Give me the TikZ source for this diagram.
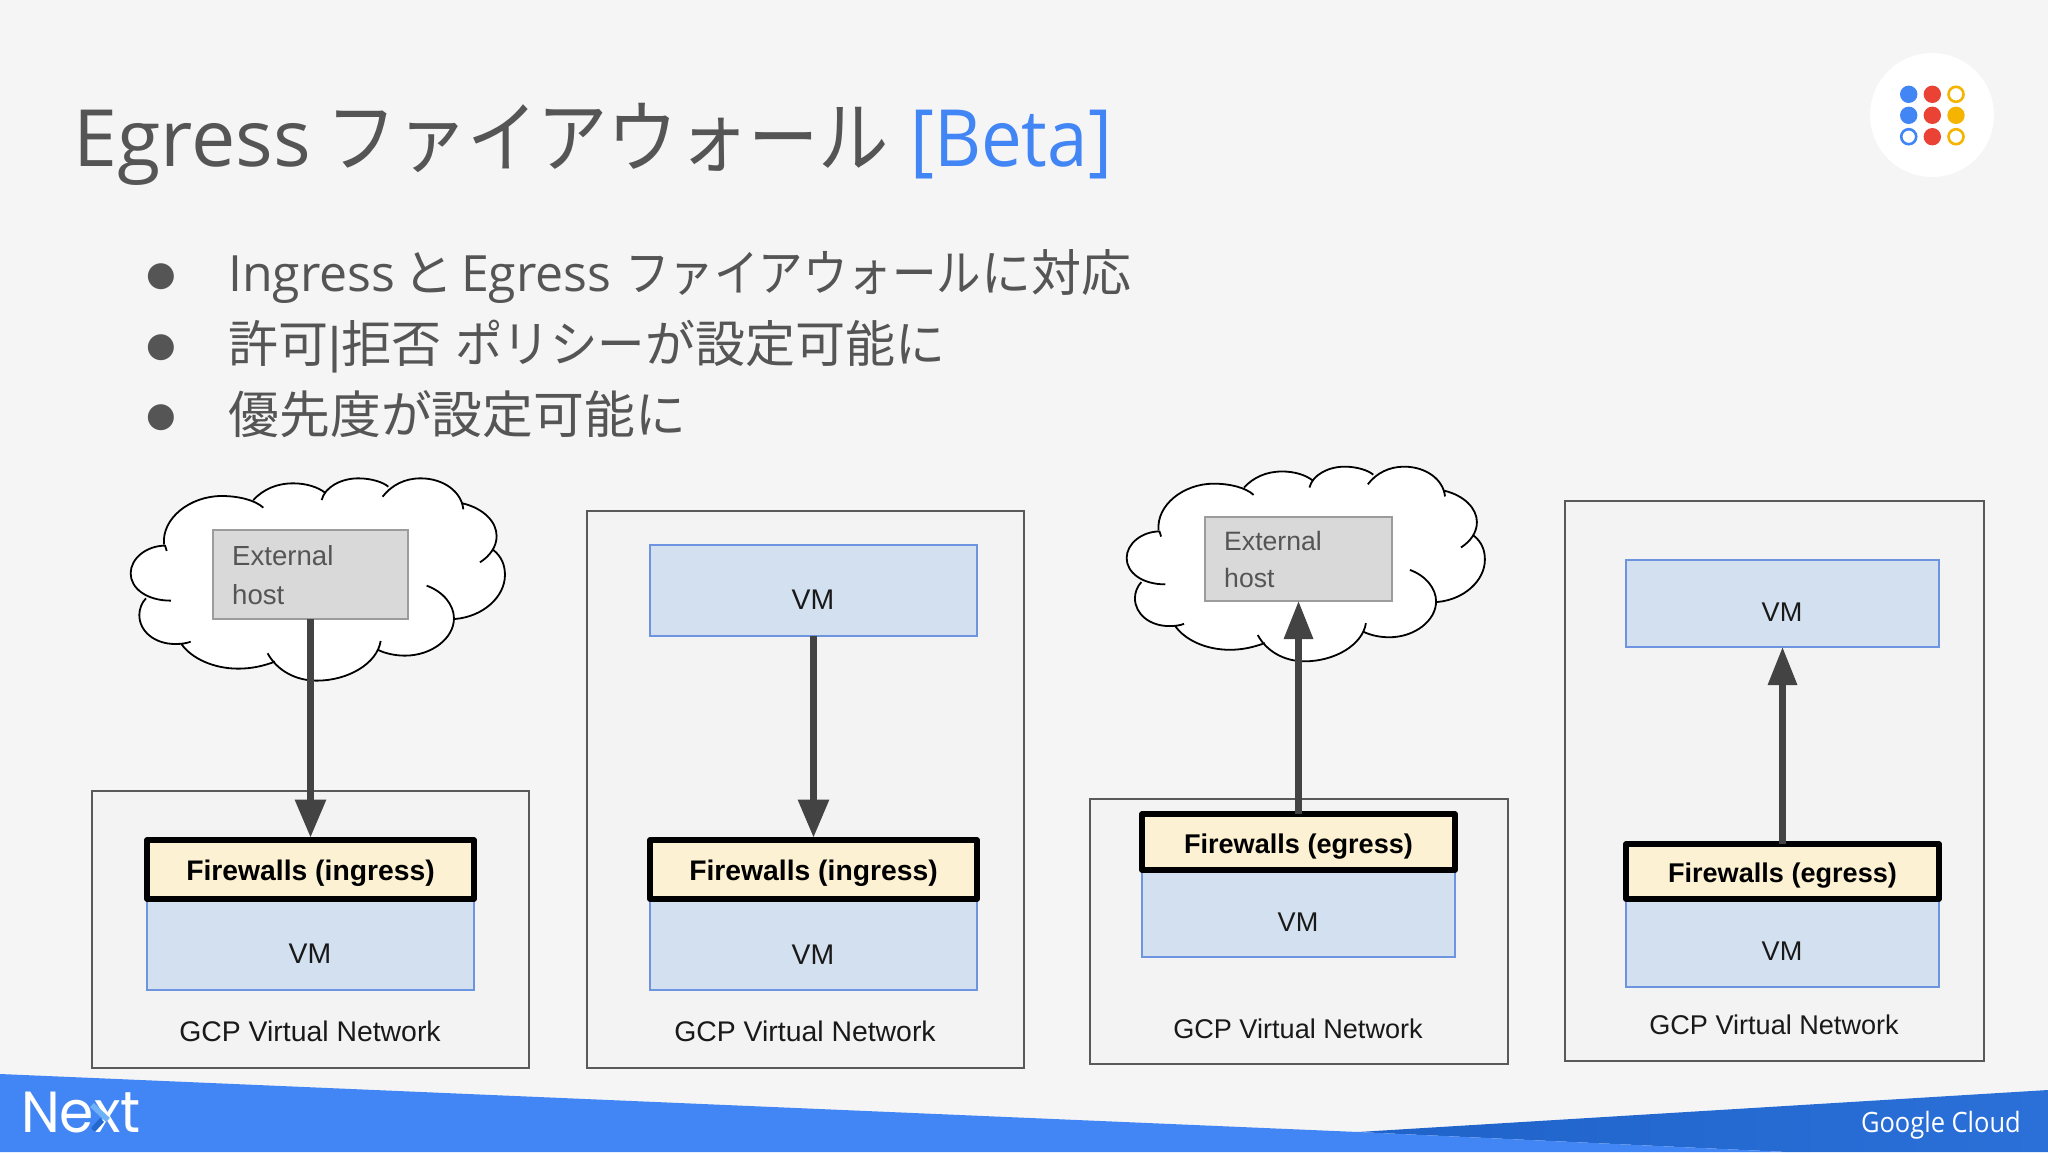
\documentclass[tikz,border=0pt]{standalone}
\usepackage{fontspec}
\usetikzlibrary{arrows.meta}
\setmainfont{Liberation Sans}
\newfontfamily\cjk{Noto Sans CJK JP}
\newfontfamily\kat[FakeStretch=.89]{Noto Sans CJK JP}
\newfontfamily\katb[FakeStretch=.95]{Noto Sans CJK JP}
\newfontfamily\lat{Open Sans}
\newfontfamily\latn[FakeStretch=.92]{Open Sans}
\newfontfamily\djv{DejaVu Sans}
\newfontfamily\logofont{Poppins}
\definecolor{bgc}{HTML}{F5F5F6}
\definecolor{netfill}{HTML}{F3F3F4}
\definecolor{inkc}{HTML}{555555}
\definecolor{beta}{HTML}{4285F4}
\definecolor{arrowc}{HTML}{434343}
\definecolor{netc}{HTML}{595959}
\definecolor{vmfill}{HTML}{D2E0F0}
\definecolor{vmline}{HTML}{6D94DE}
\definecolor{fwfill}{HTML}{FCF1D2}
\definecolor{hostfill}{HTML}{D9D9D9}
\definecolor{hostline}{HTML}{9C9C9C}
\definecolor{hostink}{HTML}{555555}
\definecolor{gred}{HTML}{EA4335}
\definecolor{gyel}{HTML}{F4B400}
\definecolor{banner}{HTML}{4285F4}
\definecolor{bannerd}{HTML}{2368CF}
\definecolor{bannerl}{HTML}{1F63C9}
\definecolor{bannerr}{HTML}{2A70D8}
\definecolor{xlight}{HTML}{6FB1F5}
\newcommand\cloudlines[1]{
 (213,452) .. controls (140,452) and (92,415) .. (92,370) .. controls (92,325) and (140,287) .. (195,287) .. controls (197,292) and (199,297) .. (200,303) #1
 (192,283) .. controls (185,205) and (270,138) .. (365,138) .. controls (415,138) and (465,150) .. (490,173) #1
 (460,150) .. controls (490,118) and (530,100) .. (580,100) .. controls (620,100) and (655,112) .. (675,128) #1
 (665,150) .. controls (675,110) and (725,85) .. (775,85) .. controls (815,85) and (850,97) .. (865,110) #1
 (848,140) .. controls (875,105) and (915,85) .. (962,85) .. controls (1030,85) and (1085,125) .. (1090,178) #1
 (1088,160) .. controls (1150,175) and (1190,215) .. (1190,258) .. controls (1190,290) and (1170,318) .. (1140,337) #1
 (1180,300) .. controls (1205,320) and (1215,345) .. (1215,375) .. controls (1215,440) and (1150,500) .. (1065,507) #1
 (980,407) .. controls (1030,425) and (1062,465) .. (1062,505) .. controls (1062,565) and (995,617) .. (915,617) .. controls (885,617) and (855,610) .. (835,600) #1
 (842,573) .. controls (832,640) and (745,692) .. (650,692) .. controls (585,692) and (530,660) .. (503,610) #1
 (525,635) .. controls (490,648) and (455,656) .. (415,656) .. controls (340,656) and (275,625) .. (245,583) #1
 (272,575) .. controls (260,580) and (245,582) .. (225,582) .. controls (165,582) and (118,545) .. (118,495) .. controls (118,478) and (125,458) .. (138,445)
}
\tikzset{
 netbox/.style={draw=netc,line width=2pt,fill=netfill,inner sep=0pt,outer sep=0pt},
 vmbox/.style={draw=vmline,line width=2pt,fill=vmfill,inner sep=0pt,outer sep=0pt},
 fwbox/.style={draw=black,line width=5.5pt,fill=fwfill,line join=round,inner sep=0pt,outer sep=0pt,text=black,text height=22pt,text depth=0pt,font=\fontsize{28.3}{32}\selectfont\bfseries},
 fwboxs/.style={fwbox,font=\fontsize{27.1}{32}\selectfont\bfseries},
 hostbox/.style={draw=hostline,line width=2pt,fill=hostfill,inner sep=0pt,outer sep=0pt},
 hosttxt/.style={inner sep=0pt,anchor=base west,text=hostink,font=\fontsize{27.6}{32}\selectfont},
 lbl/.style={inner sep=0pt,text=black!90,font=\fontsize{28.4}{32}\selectfont},
 lbls/.style={lbl,font=\fontsize{27.1}{32}\selectfont},
 flow/.style={draw=arrowc,line width=6.3pt,-{Triangle[length=38pt,width=30pt,fill=arrowc]}},
 flowup/.style={draw=arrowc,line width=6.3pt,-{Triangle[length=38pt,width=28pt,fill=arrowc]}},
 titletxt/.style={inner sep=0pt,anchor=base west,text=inkc,font=\fontsize{79}{90}\selectfont},
 bodytxt/.style={inner sep=0pt,anchor=base west,text=inkc,font=\fontsize{50}{60}\selectfont},
 bul/.style={inner sep=0pt,anchor=base,text=inkc,font=\djv\fontsize{34}{40}\selectfont},
 dot/.style={circle,inner sep=0pt,outer sep=0pt,minimum size=17.4pt},
 ring/.style={circle,inner sep=0pt,outer sep=0pt,minimum size=15pt,draw=#1,line width=2.6pt,fill=white},
 cloudink/.style={draw=black,line width=1.8pt}
}
\begin{document}
\begin{tikzpicture}[x=1pt,y=-1pt]
\useasboundingbox (0,0) rectangle (2048,1152);
\fill[bgc] (0,0) rectangle (2048,1152);
% banner
\shade[left color=bannerl,right color=bannerr] (1358,1132) -- (2048,1090) -- (2048,1152) -- (1787,1152) -- cycle;
\fill[banner] (0,1074) -- (1358,1132) -- (1787,1152) -- (0,1152) -- cycle;
\node[inner sep=0pt,anchor=base west,text=white,xscale=.95,font=\logofont\fontsize{58}{60}\selectfont] (next) at (21,1132) {Next};
\draw[line width=5.5pt,color=xlight] (92,1105) -- (108,1120);
\draw[line width=5.5pt,color=bannerd] (93,1130) -- (102,1120);
\node[inner sep=0pt,anchor=base east,text=white,xscale=.91,font=\lat\fontsize{28}{30}\selectfont] (gc) at (2021,1132) {Google Cloud};
% title
\node[titletxt] (title) at (73,166) {{\lat Egress}\hspace{-6pt} {\kat ファイアウォール}\hspace{-1pt} {\latn\color{beta}[Beta]}};
\node[bodytxt] (l1) at (228,291) {{\lat Ingress}\hspace{-6pt} {\cjk と}\hspace{-6pt} {\lat Egress} {\kat ファイアウォール}{\cjk に対応}};
\node[bodytxt] (l2) at (228,362) {{\cjk 許可}|{\cjk 拒否} {\katb ポリシー}{\cjk が設定可能に}};
\node[bodytxt,font=\fontsize{50.8}{60}\selectfont] (l3) at (228.5,433) {{\cjk 優先度が設定可能に}};
\node[bul] (b1) at (161,285) {●};
\node[bul] (b2) at (161,356) {●};
\node[bul] (b3) at (161,426) {●};
% logo
\fill[white] (1932,115) circle (62);
\node[dot,fill=beta] (d1) at (1908.7,94.3) {};
\node[dot,fill=gred] (d2) at (1932.3,94.3) {};
\node[ring=gyel] (d3) at (1956,94.3) {};
\node[dot,fill=beta] (d4) at (1908.7,115.3) {};
\node[dot,fill=gred] (d5) at (1932.3,115.3) {};
\node[dot,fill=gyel] (d6) at (1956,115.3) {};
\node[ring=beta] (d7) at (1908.7,136.7) {};
\node[dot,fill=gred] (d8) at (1932.3,136.7) {};
\node[ring=gyel] (d9) at (1956,136.7) {};
% network frames
\node[netbox,minimum width=437pt,minimum height=277pt] (net1) at (310.5,929.5) {};
\node[netbox,minimum width=437pt,minimum height=557pt] (net2) at (805.5,789.5) {};
\node[netbox,minimum width=418pt,minimum height=265pt] (net3) at (1299,931.5) {};
\node[netbox,minimum width=419pt,minimum height=560pt] (net4) at (1774.5,781) {};
% clouds
\begin{scope}[shift={(100,450)},x=.3333pt,y=-.3333pt]
\fill[white] \cloudlines{--} -- cycle;
\draw[cloudink] \cloudlines{};
\end{scope}
\begin{scope}[shift={(1097.3,439.4)},x=.319pt,y=-.3207pt]
\fill[white] \cloudlines{--} -- cycle;
\draw[cloudink] \cloudlines{};
\end{scope}
% panel 1
\node[hostbox,minimum width=195pt,minimum height=89pt] (host1) at (310.5,574.5) {};
\node[hosttxt] (host1a) at (232,565) {External};
\node[hosttxt] (host1b) at (232,604) {host};
\node[vmbox,minimum width=327pt,minimum height=91pt] (vm1) at (310.5,944.5) {};
\node[fwbox,minimum width=327pt,minimum height=59pt] (fw1) at (310.5,869.5) {Firewalls (ingress)};
\node[lbl] (vm1t) at (310,953.5) {VM};
\node[lbl] (net1t) at (310,1031) {GCP Virtual Network};
\draw[flow,shorten >=2.5pt] (host1.south) -- (fw1.north);
% panel 2
\node[vmbox,minimum width=327pt,minimum height=91pt] (vm2a) at (813.5,590.5) {};
\node[lbl] (vm2at) at (813,599.5) {VM};
\node[vmbox,minimum width=327pt,minimum height=91pt] (vm2b) at (813.5,944.5) {};
\node[fwbox,minimum width=327pt,minimum height=59pt] (fw2) at (813.5,869.5) {Firewalls (ingress)};
\node[lbl] (vm2bt) at (813,954.5) {VM};
\node[lbl] (net2t) at (805,1031) {GCP Virtual Network};
\draw[flow,shorten >=2.5pt] (vm2a.south) -- (fw2.north);
% panel 3
\node[hostbox,minimum width=187pt,minimum height=84pt] (host2) at (1298.5,559) {};
\node[hosttxt,font=\fontsize{26.6}{32}\selectfont] (host2a) at (1224,550) {External};
\node[hosttxt,font=\fontsize{26.6}{32}\selectfont] (host2b) at (1224,587.5) {host};
\node[vmbox,minimum width=313pt,minimum height=87pt] (vm3) at (1298.5,913.5) {};
\node[fwboxs,minimum width=313pt,minimum height=56pt] (fw3) at (1298.5,842) {Firewalls (egress)};
\node[lbls] (vm3t) at (1298,922) {VM};
\node[lbls] (net3t) at (1298,1028.5) {GCP Virtual Network};
\draw[flowup] (fw3.north) -- (host2.south);
% panel 4
\node[vmbox,minimum width=313pt,minimum height=87pt] (vm4a) at (1782.5,603.5) {};
\node[lbls] (vm4at) at (1782,612) {VM};
\node[vmbox,minimum width=313pt,minimum height=87pt] (vm4b) at (1782.5,943) {};
\node[fwboxs,minimum width=313pt,minimum height=55pt] (fw4) at (1782.5,871.5) {Firewalls (egress)};
\node[lbls] (vm4bt) at (1782,951) {VM};
\node[lbls] (net4t) at (1774,1025) {GCP Virtual Network};
\draw[flowup] (fw4.north) -- (vm4a.south);
\end{tikzpicture}
\end{document}
